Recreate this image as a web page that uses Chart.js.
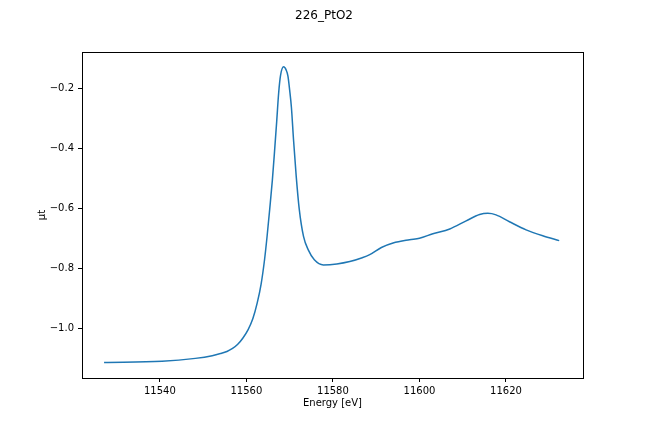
<!DOCTYPE html>
<html><head><meta charset="utf-8">
<script src="https://cdn.jsdelivr.net/npm/chart.js@4"></script>
<style>html,body{margin:0;padding:0;background:#fff}#wrap{width:648px;height:432px;position:relative}</style>
</head><body><div id="wrap"><canvas id="c" width="648" height="432"></canvas></div>
<script>
const chartTitle = "226_PtO2";
const xLabel = "Energy [eV]";
const yLabel = "μt";
const energy = [11527.1,11540.5,11548.2,11552.1,11554.0,11555.5,11556.8,11558.0,11559.2,11560.4,11561.5,11562.5,11563.4,11564.2,11564.8,11565.4,11566.0,11566.5,11567.0,11567.45,11567.9,11568.6,11569.2,11569.6,11570.0,11570.4,11570.9,11571.5,11572.2,11573.2,11574.3,11575.7,11577.8,11580.9,11583.9,11586.6,11588.5,11591.2,11593.9,11597.7,11600.0,11603.1,11607.0,11610.8,11613.9,11615.8,11617.7,11620.8,11624.65,11628.5,11632.3];
const mu = [-1.114,-1.110,-1.100,-1.091,-1.084,-1.077,-1.067,-1.053,-1.032,-1.004,-0.967,-0.915,-0.852,-0.770,-0.690,-0.600,-0.505,-0.410,-0.310,-0.215,-0.155,-0.127,-0.138,-0.158,-0.205,-0.262,-0.372,-0.490,-0.600,-0.693,-0.738,-0.771,-0.788,-0.785,-0.777,-0.765,-0.754,-0.730,-0.715,-0.704,-0.699,-0.684,-0.668,-0.641,-0.620,-0.616,-0.621,-0.644,-0.671,-0.691,-0.707];
const xTicks = [11540,11560,11580,11600,11620];
const yTicks = [-1.0,-0.8,-0.6,-0.4,-0.2];

const font = "'DejaVu Sans', sans-serif";
const frame = {
  id: 'frame',
  afterDraw(chart) {
    const {ctx, chartArea: a} = chart;
    ctx.save();
    ctx.strokeStyle = '#000'; ctx.lineWidth = 1;
    ctx.strokeRect(Math.round(a.left)+0.5, Math.round(a.top)+0.5, Math.round(a.right-a.left), Math.round(a.bottom-a.top));
    ctx.fillStyle = '#000';
    ctx.textAlign = 'center'; ctx.textBaseline = 'middle';
    ctx.font = "12px " + font;
    ctx.fillText(chartTitle, 324, 16);
    ctx.font = "10px " + font;
    ctx.fillText(xLabel, (a.left+a.right)/2, 403);
    ctx.translate(42, (a.top+a.bottom)/2);
    ctx.rotate(-Math.PI/2);
    ctx.fillText(yLabel, 0, 0);
    ctx.restore();
  }
};

new Chart(document.getElementById('c'), {
  type: 'line',
  data: { datasets: [{ data: energy.map((e,i)=>({x:e,y:mu[i]})), borderColor:'#1f77b4', borderWidth:1.5, pointRadius:0, fill:false, cubicInterpolationMode:'monotone' }] },
  options: {
    responsive:false, animation:false, devicePixelRatio:1,
    layout:{padding:{top:52,right:65,left:0,bottom:0}},
    plugins:{legend:{display:false}, tooltip:{enabled:false}, title:{display:false}},
    scales:{
      x:{type:'linear', min:11522.0, max:11637.8,
        afterFit(s){s.height=54;},
        afterBuildTicks(s){s.ticks=xTicks.map(v=>({value:v}));},
        grid:{drawOnChartArea:false, drawTicks:true, tickLength:4, color:'#000'},
        border:{display:true,color:'#000'},
        ticks:{color:'#000', font:{family:font,size:10}, padding:3, maxRotation:0, callback:v=>String(v)}},
      y:{type:'linear', min:-1.1655, max:-0.0775,
        afterFit(s){s.width=82;},
        afterBuildTicks(s){s.ticks=yTicks.map(v=>({value:v}));},
        grid:{drawOnChartArea:false, drawTicks:true, tickLength:4, color:'#000'},
        border:{display:true,color:'#000'},
        ticks:{color:'#000', font:{family:font,size:10}, padding:4, callback:v=>(v<0?'\u2212':'')+Math.abs(v).toFixed(1)}}
    }
  },
  plugins:[frame]
});
</script></body></html>
